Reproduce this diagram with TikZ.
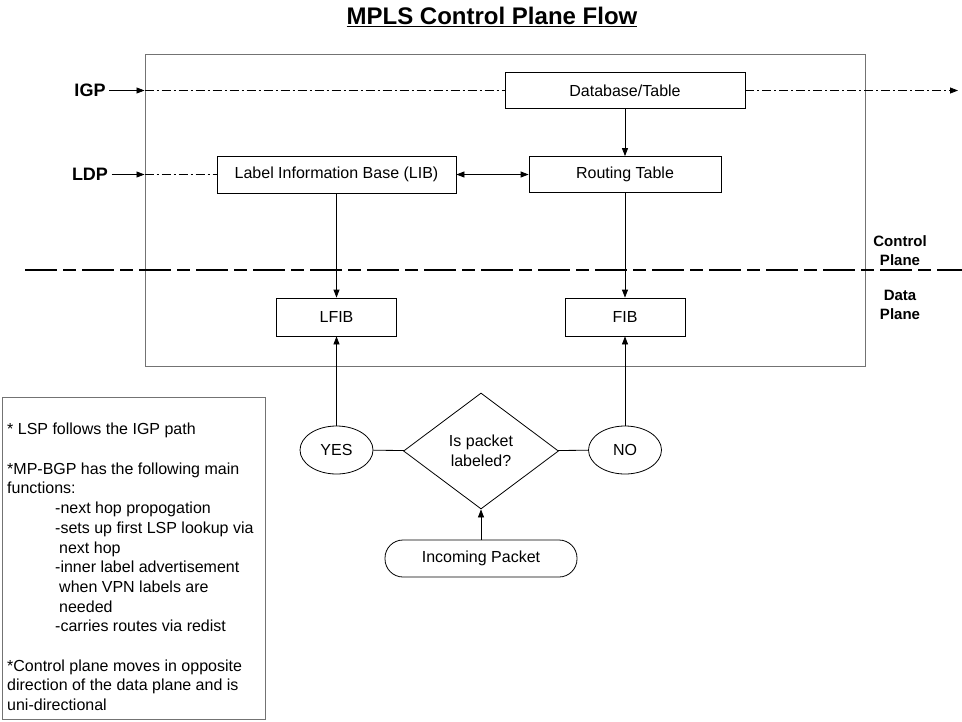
\documentclass[tikz,border=0pt]{standalone}
\usepackage{fontspec}
\setmainfont{Liberation Sans}
\usetikzlibrary{shapes.geometric,arrows.meta}

\begin{document}
\begin{tikzpicture}[
            x=1pt, y=-1pt,
            >={Triangle[length=8pt,width=6pt]},
            font=\fontsize{16}{20}\selectfont,
            block/.style={rectangle, draw, line width=0.8pt, minimum height=36pt, inner sep=2pt},
            oval/.style={ellipse, draw, line width=0.8pt, minimum width=73pt, minimum height=48pt, inner sep=0pt},
            decision/.style={diamond, draw, line width=0.8pt, minimum width=155pt, minimum height=116pt, inner sep=0pt, align=center},
            terminal/.style={rectangle, rounded corners=18pt, draw, line width=0.8pt, minimum width=192pt, minimum height=37pt},
            protocol/.style={font=\fontsize{18}{20}\selectfont\bfseries},
            planelabel/.style={font=\fontsize{15}{19}\selectfont\bfseries, align=center},
            dashdot/.style={dash pattern=on 9pt off 3pt on 2pt off 3pt},
            wire/.style={line width=0.8pt}
        ]
            \useasboundingbox (0,0) rectangle (962,721);

            \node[font=\fontsize{24}{28}\selectfont\bfseries] (title) at (492,17) {\underline{MPLS Control Plane Flow}};

            % control plane frame
            \node[draw=black!55, line width=1pt, minimum width=720pt, minimum height=312pt] (frame) at (505,210) {};

            \node[block, minimum width=240pt] (db) at (625,90.5) {Database/Table};
            \node[block, minimum width=239pt, minimum height=37pt] (lib) at (336.5,174.5) {Label Information Base (LIB)};
            \node[block, minimum width=192pt] (rt) at (625,174.5) {Routing Table};
            \node[block, minimum width=120pt, minimum height=38pt] (lfib) at (336.5,317) {LFIB};
            \node[block, minimum width=120pt, minimum height=38pt] (fib) at (625,317) {FIB};

            % data plane decision
            \node[oval] (yes) at (336.5,450) {YES};
            \node[decision] (check) at (481,451) {Is packet\\labeled?};
            \node[oval] (no) at (625,450) {NO};
            \node[terminal] (packet) at (481,558.5) {Incoming Packet};

            \node[protocol] (igp) at (90,90.5) {IGP};
            \node[protocol] (ldp) at (90,174.5) {LDP};
            \coordinate (igpout) at (958,90.5);

            \draw[->, wire] (igp.east) -- (igp -| frame.west);
            \draw[wire, dashdot] (igp -| frame.west) -- (db.west);
            \draw[->, wire, dashdot] (db.east) -- (igpout);
            \draw[->, wire] (ldp.east) -- (ldp -| frame.west);
            \draw[wire, dashdot] (ldp -| frame.west) -- (lib.west);

            \draw[<->, wire] (lib) -- (rt);
            \draw[->, wire] (db) -- (rt);
            \draw[->, wire] (lib) -- (lfib);
            \draw[->, wire] (rt) -- (fib);
            \draw[->, wire] (yes) -- (lfib);
            \draw[->, wire] (no) -- (fib);
            \draw[wire] (yes) -- (check);
            \draw[wire] (check) -- (no);
            \draw[->, wire] (packet) -- (check);

            % control / data plane border
            \coordinate (sepL) at (25,270);
            \coordinate (sepR) at (962,270);
            \draw[line width=2pt, dash pattern=on 32pt off 6pt on 13pt off 6pt] (sepL) -- (sepR);
            \node[planelabel] (cplane) at (900,251) {Control\\Plane};
            \node[planelabel] (dplane) at (900,305) {Data\\Plane};

            % notes
            \node[draw=black!55, line width=1pt, minimum width=263pt, minimum height=322pt] (notebox) at (133.5,558) {};
            \node[anchor=north west, inner sep=0pt, align=left, font=\fontsize{16}{19.7}\selectfont] (notes) at (7,423) {%
                * LSP follows the IGP path\\[19.7pt]
                *MP-BGP has the following main\\
                functions:\\
                \hspace*{48pt}-next hop propogation\\
                \hspace*{48pt}-sets up first LSP lookup via\\
                \hspace*{52pt}next hop\\
                \hspace*{48pt}-inner label advertisement\\
                \hspace*{52pt}when VPN labels are\\
                \hspace*{52pt}needed\\
                \hspace*{48pt}-carries routes via redist\\[19.7pt]
                *Control plane moves in opposite\\
                direction of the data plane and is\\
                uni-directional};
        \end{tikzpicture}
\end{document}
